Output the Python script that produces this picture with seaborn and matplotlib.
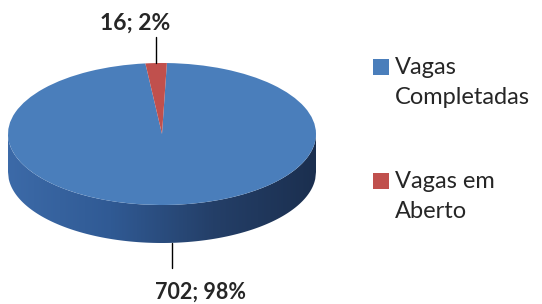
import numpy as np
import matplotlib.pyplot as plt
import seaborn as sns
from matplotlib.colors import LinearSegmentedColormap
from matplotlib.patches import Rectangle, Polygon

# dados
categorias = ['Vagas Completadas', 'Vagas em Aberto']
rotulos_legenda = ['Vagas\nCompletadas', 'Vagas em\nAberto']
valores = [702, 16]
cores = ['#4a7ebb', '#c0504d']

sns.set_theme(style='white')
plt.rcParams['font.family'] = ['Lato', 'DejaVu Sans']

W, H = 542, 304
fig = plt.figure(figsize=(W / 100, H / 100), dpi=100)
fig.patch.set_facecolor('white')

# eixo do disco (pixels -> fração da figura)
sx, sy = 154.0, 71.0      # pixels por unidade (elipse achatada)
prof = 38 / sy            # espessura do disco
ax = fig.add_axes([8 / W, 1 - 243 / H, 308 / W, 180 / H])

total = sum(valores)
wedges, _ = ax.pie(valores, colors=cores, startangle=96.2, counterclock=True,
                   wedgeprops=dict(linewidth=0))

# lateral do disco com degradê
x = np.linspace(-1, 1, 400)
frente = -np.sqrt(1 - x ** 2)
verts = np.vstack([np.column_stack([x, frente]),
                   np.column_stack([x[::-1], frente[::-1] - prof])])
lado = Polygon(verts, closed=True, facecolor='none', edgecolor='none')
ax.add_patch(lado)
cmap = LinearSegmentedColormap.from_list('lado', ['#3c6aa8', '#305a94', '#243f68', '#1b2f4f'])
grad = ax.imshow(np.linspace(0, 1, 256)[None, :], cmap=cmap, extent=(-1, 1, -1 - prof, 0),
                 aspect='auto', zorder=0)
grad.set_clip_path(lado)

ax.set_aspect('auto')
ax.set_xlim(-1, 1)
ax.set_ylim(-1 - prof, 1)
ax.axis('off')

# rótulos de dados
for w, v in zip(wedges, valores):
    meio = np.deg2rad((w.theta1 + w.theta2) / 2)
    px, py = np.cos(meio), np.sin(meio)
    rotulo = f'{v}; {v / total * 100:.0f}%'
    if py > 0:
        y0, y1 = py, py + 26 / sy
        ax.plot([px, px], [y0, y1], color='black', lw=1, clip_on=False)
        ax.text(px - 21 / sx, y1 + 7 / sy, rotulo, ha='center', va='baseline',
                fontsize=16.5, fontweight='bold', color='#262626')
    else:
        y0 = py - prof
        y1 = y0 - 25 / sy
        ax.plot([px + 4 / sx, px + 4 / sx], [y0, y1], color='black', lw=1, clip_on=False)
        ax.text(px + 33 / sx, y1 - 31 / sy, rotulo, ha='center', va='baseline',
                fontsize=15.5, fontweight='bold', color='#262626')

# legenda
centros = [67, 181]
entre_linhas = 30
for cor, rot, yc in zip(cores, rotulos_legenda, centros):
    fig.add_artist(Rectangle((373 / W, 1 - (yc + 8) / H), 16 / W, 16 / H,
                             transform=fig.transFigure, facecolor=cor, edgecolor='none'))
    for i, linha in enumerate(rot.split('\n')):
        fig.text(395 / W, 1 - (yc + 7 + i * entre_linhas) / H, linha, ha='left',
                 va='baseline', fontsize=17, color='#262626')

fig.savefig('out.png', dpi=100)
